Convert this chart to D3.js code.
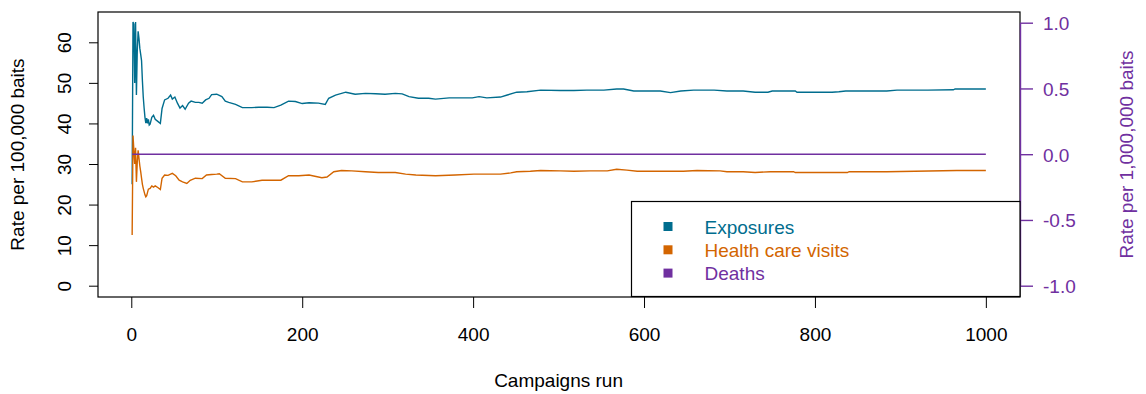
<!DOCTYPE html>
<html>
<head>
<meta charset="utf-8">
<script src="https://cdn.jsdelivr.net/npm/d3@7"></script>
<style>
  body { margin: 0; background: #fff; }
  svg { display: block; font-family: "Liberation Sans", Arial, sans-serif; }
</style>
</head>
<body>
<div class="interactive-wrapper"></div>
<script>

// values (cumulative rate after n campaigns)
const exposureCampaigns = [1,2,3,4,5,6,7,8,9,10,11,12,13,14,15,16,17,18,19,20,21,22,24,26,28,31,34,36,39,43,46,48,51,54,57,60,63,67,70,75,79,83,87,91,94,100,106,110,114,122,130,141,149,159,167,175,184,192,200,208,219,227,231,239,251,262,274,286,297,309,317,325,336,348,356,372,387,399,407,416,432,440,451,463,479,502,518,533,553,568,576,588,604,619,631,643,658,682,697,716,730,745,750,777,779,820,828,836,884,896,932,962,964,1000]
const exposureRates = [25.0,65.0,64.5,50.0,65.0,47.0,58.0,62.7,61.0,58.5,57.0,55.5,50.5,46.5,43.8,41.5,40.1,41.3,40.0,41.0,39.6,39.8,41.5,42.0,41.0,40.5,40.0,43.7,45.8,46.2,47.0,46.0,46.5,45.0,43.8,44.4,43.5,45.0,45.5,45.2,45.2,45.0,45.8,46.2,47.1,47.2,46.6,45.5,45.2,44.7,43.9,43.9,44.0,44.0,43.9,44.5,45.5,45.4,44.9,45.1,45.0,44.7,46.2,47.0,47.7,47.2,47.4,47.3,47.2,47.4,47.3,46.6,46.2,46.2,46.0,46.3,46.3,46.3,46.6,46.3,46.5,47.0,47.7,47.8,48.2,48.1,48.1,48.2,48.2,48.5,48.5,48.0,48.0,48.0,47.6,48.0,48.2,48.2,48.0,48.0,47.7,47.7,48.0,48.0,47.7,47.7,47.8,48.0,48.0,48.2,48.2,48.3,48.5,48.5]

const visitCampaigns = [1,2,3,4,5,6,7,8,9,10,11,12,13,14,15,16,17,18,19,20,22,24,26,28,31,34,36,39,43,48,52,56,60,65,69,75,83,88,94,100,103,110,122,130,141,153,165,175,184,196,208,223,229,237,246,258,274,289,309,321,333,356,379,401,416,432,444,451,467,479,502,518,537,557,568,580,592,619,646,662,689,697,716,730,748,775,777,838,840,884,966,1000]
const visitRates = [12.5,37.0,33.5,30.0,34.0,25.6,30.5,33.4,31.4,29.5,28.1,26.5,25.0,24.0,23.2,22.4,21.9,22.2,23.0,23.8,24.0,24.6,24.3,24.6,24.2,23.7,26.5,27.3,27.2,27.7,27.1,26.0,25.6,25.2,26.0,26.5,26.4,27.3,27.4,27.5,27.6,26.5,26.4,25.6,25.6,26.0,26.0,26.0,27.1,27.1,27.3,26.6,26.8,28.1,28.4,28.3,28.1,27.9,27.9,27.5,27.3,27.1,27.3,27.5,27.5,27.5,27.8,28.1,28.2,28.4,28.3,28.2,28.3,28.3,28.7,28.5,28.2,28.2,28.2,28.4,28.3,28.1,28.1,27.9,28.1,28.1,27.9,27.9,28.1,28.1,28.4,28.4]

// deaths per 1,000,000 baits (right axis)
const deathCampaigns = [1, 1000]
const deathRates = [0, 0]

const xTicks = [0, 200, 400, 600, 800, 1000]
const leftTicks = [0, 10, 20, 30, 40, 50, 60]
const rightTicks = [-1.0, -0.5, 0.0, 0.5, 1.0]
const legendLabels = ["Exposures", "Health care visits", "Deaths"]

const blue = "#006d8e", orange = "#d36500", purple = "#7030a0";
const legendColors = [blue, orange, purple];

let svg = d3.select(".interactive-wrapper").append("svg").attr("width", 1146).attr("height", 394),
    box = {left: 98, right: 1020, top: 12, bottom: 297},
    fontSize = 19;

let x = d3.scaleLinear().domain([-38.96, 1039.96]).range([box.left, box.right]);
let yLeft = d3.scaleLinear().domain([0, 60]).range([285.7, 42.3]);
let yRight = d3.scaleLinear().domain([-1, 1]).range([285.7, 22.7]);

function series(cs, vs) { return cs.map((c, i) => [c, vs[i]]) }

let lineLeft = d3.line().x(d => x(d[0])).y(d => yLeft(d[1]));
let lineRight = d3.line().x(d => x(d[0])).y(d => yRight(d[1]));

// plot box
svg.append("rect")
  .attr("x", box.left).attr("y", box.top)
  .attr("width", box.right - box.left).attr("height", box.bottom - box.top)
  .attr("fill", "none").attr("stroke", "#000").attr("stroke-width", 1.2);

svg.append("path").datum(series(exposureCampaigns, exposureRates))
  .attr("d", lineLeft).attr("fill", "none").attr("stroke", blue).attr("stroke-width", 1.4);
svg.append("path").datum(series(visitCampaigns, visitRates))
  .attr("d", lineLeft).attr("fill", "none").attr("stroke", orange).attr("stroke-width", 1.4);
svg.append("path").datum(series(deathCampaigns, deathRates))
  .attr("d", lineRight).attr("fill", "none").attr("stroke", purple).attr("stroke-width", 1.4);

// bottom axis
let xAxis = svg.append("g").attr("transform", `translate(0,${box.bottom})`)
  .call(d3.axisBottom(x).tickValues(xTicks).tickSize(11).tickSizeOuter(0).tickFormat(d3.format("d")));
xAxis.select(".domain").remove();
xAxis.selectAll("text").attr("font-size", fontSize).attr("font-family", "Liberation Sans, Arial").attr("fill", "#000")
  .attr("y", 44).attr("dy", 0);

// left axis, labels parallel to the axis
let yAxisL = svg.append("g").attr("transform", `translate(${box.left},0)`)
  .call(d3.axisLeft(yLeft).tickValues(leftTicks).tickSize(9).tickSizeOuter(0));
yAxisL.select(".domain").remove();
yAxisL.selectAll("text").remove();
yAxisL.selectAll(".tick").append("text")
  .attr("transform", "translate(-27,0) rotate(-90)")
  .attr("text-anchor", "middle")
  .attr("font-size", fontSize).attr("font-family", "Liberation Sans, Arial").attr("fill", "#000")
  .text(d => d);

// right axis in purple
let yAxisR = svg.append("g").attr("transform", `translate(${box.right},0)`)
  .call(d3.axisRight(yRight).tickValues(rightTicks).tickSize(13).tickSizeOuter(0).tickFormat(d3.format(".1f")));
yAxisR.select(".domain").attr("stroke", purple).attr("stroke-width", 1.4);
yAxisR.selectAll("line").attr("stroke", purple).attr("stroke-width", 1.4);
yAxisR.selectAll("text").attr("font-size", fontSize).attr("font-family", "Liberation Sans, Arial")
  .attr("fill", purple).attr("x", 23).attr("dy", "0.36em")
  .text(d => d3.format(".1f")(d).replace("−", "-"));

// axis titles
svg.append("text")
  .attr("transform", `translate(${(x(0) + x(1000)) / 2},387)`)
  .attr("text-anchor", "middle").attr("font-size", fontSize)
  .text("Campaigns run");
svg.append("text")
  .attr("transform", `translate(24,${(box.top + box.bottom) / 2}) rotate(-90)`)
  .attr("text-anchor", "middle").attr("font-size", fontSize)
  .text("Rate per 100,000 baits");
svg.append("text")
  .attr("transform", `translate(1133,${(box.top + box.bottom) / 2}) rotate(-90)`)
  .attr("text-anchor", "middle").attr("font-size", fontSize).attr("fill", purple)
  .text("Rate per 1,000,000 baits");

// legend
let legend = svg.append("g");
legend.append("rect")
  .attr("x", 631.5).attr("y", 201.5).attr("width", 388.5).attr("height", 95)
  .attr("fill", "#fff").attr("stroke", "#000").attr("stroke-width", 1.2);

let rows = legend.selectAll("g.row").data(legendLabels).enter().append("g")
  .attr("transform", (d, i) => `translate(0,${226.5 + i * 23.3})`);
rows.append("rect")
  .attr("x", 663.5).attr("y", -4.5).attr("width", 9).attr("height", 9)
  .attr("fill", (d, i) => legendColors[i]);
rows.append("text")
  .attr("x", 704.5).attr("y", 7)
  .attr("font-size", fontSize).attr("fill", (d, i) => legendColors[i])
  .text(d => d);

</script>
</body>
</html>
